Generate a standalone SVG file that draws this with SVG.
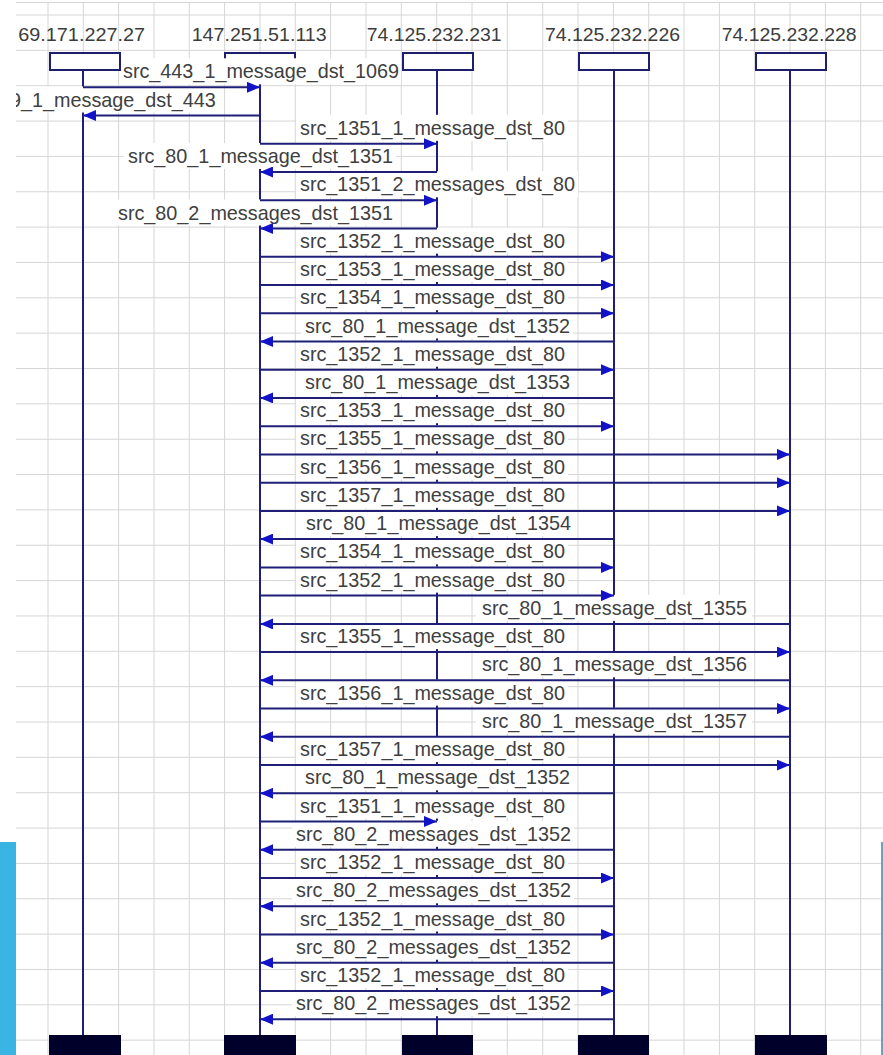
<svg xmlns="http://www.w3.org/2000/svg" width="883" height="1055" viewBox="0 0 883 1055">
<style>
.grid{stroke:#d6d6d6;stroke-width:1;fill:none}
.hdr{font-family:"Liberation Sans",Arial,sans-serif;font-size:18.5px;fill:#3c3c3c}
.head{fill:#fff;stroke:#1e1e6e;stroke-width:2}
.life{stroke:#1f1f78;stroke-width:2}
.foot{fill:#00002a}
.lbg{fill:#fff}
.lbl{font-family:"Liberation Sans",Arial,sans-serif;font-size:19.8px;fill:#404040}
.msg{stroke:#1f1f78;stroke-width:2;fill:none;marker-end:url(#ah)}
</style>
<defs>
<marker id="ah" markerUnits="userSpaceOnUse" markerWidth="13" markerHeight="11" refX="13" refY="5.5" orient="auto"><path d="M0,0 L13,5.5 L0,11 z" fill="#1212c8"/></marker>
<clipPath id="area"><rect x="16" y="0" width="867" height="1055"/></clipPath>
</defs>
<rect x="0" y="0" width="883" height="1055" fill="#fff"/>
<g id="grid" class="grid">
<path d="M16 2.5H883 M16 15H883 M16 50.35H883 M16 85.7H883 M16 121.05H883 M16 156.4H883 M16 191.75H883 M16 227.1H883 M16 262.45H883 M16 297.8H883 M16 333.15H883 M16 368.5H883 M16 403.85H883 M16 439.2H883 M16 474.55H883 M16 509.9H883 M16 545.25H883 M16 580.6H883 M16 615.95H883 M16 651.3H883 M16 686.65H883 M16 722H883 M16 757.35H883 M16 792.7H883 M16 828.05H883 M16 863.4H883 M16 898.75H883 M16 934.1H883 M16 969.45H883 M16 1004.8H883 M16 1040.15H883"/>
<path d="M48 2.5V1055 M83.3 2.5V1055 M118.6 2.5V1055 M154 2.5V1055 M189.3 2.5V1055 M224.6 2.5V1055 M260 2.5V1055 M295.3 2.5V1055 M330.6 2.5V1055 M366 2.5V1055 M401.3 2.5V1055 M436.7 2.5V1055 M472 2.5V1055 M507.3 2.5V1055 M542.7 2.5V1055 M578 2.5V1055 M613.4 2.5V1055 M648.7 2.5V1055 M684 2.5V1055 M719.4 2.5V1055 M754.7 2.5V1055 M790 2.5V1055 M825.4 2.5V1055 M860.7 2.5V1055"/>
</g>
<g id="node-69-171-227-27">
<text class="hdr" x="18.3" y="40.5" textLength="126.7" lengthAdjust="spacingAndGlyphs">69.171.227.27</text>
<rect class="head" x="50" y="53" width="70" height="17"/>
<line class="life" x1="83" y1="70" x2="83" y2="1035"/>
<rect class="foot" x="49" y="1035" width="72" height="20"/>
</g>
<g id="node-147-251-51-113">
<text class="hdr" x="191.7" y="40.5" textLength="135" lengthAdjust="spacingAndGlyphs">147.251.51.113</text>
<rect class="head" x="225" y="53" width="70" height="17"/>
<line class="life" x1="260" y1="70" x2="260" y2="1035"/>
<rect class="foot" x="224" y="1035" width="72" height="20"/>
</g>
<g id="node-74-125-232-231">
<text class="hdr" x="366.7" y="40.5" textLength="135" lengthAdjust="spacingAndGlyphs">74.125.232.231</text>
<rect class="head" x="403" y="53" width="70" height="17"/>
<line class="life" x1="437" y1="70" x2="437" y2="1035"/>
<rect class="foot" x="402" y="1035" width="71" height="20"/>
</g>
<g id="node-74-125-232-226">
<text class="hdr" x="545" y="40.5" textLength="135" lengthAdjust="spacingAndGlyphs">74.125.232.226</text>
<rect class="head" x="579" y="53" width="70" height="17"/>
<line class="life" x1="614" y1="70" x2="614" y2="1035"/>
<rect class="foot" x="578" y="1035" width="71" height="20"/>
</g>
<g id="node-74-125-232-228">
<text class="hdr" x="721.7" y="40.5" textLength="135" lengthAdjust="spacingAndGlyphs">74.125.232.228</text>
<rect class="head" x="756" y="53" width="70" height="17"/>
<line class="life" x1="790" y1="70" x2="790" y2="1035"/>
<rect class="foot" x="755" y="1035" width="72" height="20"/>
</g>
<g id="connectors" clip-path="url(#area)">
<g id="labels">
<rect class="lbg" x="121" y="58.3" width="280" height="26"/><text class="lbl" x="123" y="78.3">src_443_1_message_dst_1069</text>
<rect class="lbg" x="0" y="86.5" width="221" height="26"/><text class="lbl" x="10" y="106.5">9_1_message_dst_443</text>
<rect class="lbg" x="296" y="114.8" width="272" height="26"/><text class="lbl" x="300" y="134.8">src_1351_1_message_dst_80</text>
<rect class="lbg" x="124" y="143" width="272" height="26"/><text class="lbl" x="128" y="163">src_80_1_message_dst_1351</text>
<rect class="lbg" x="296" y="171.3" width="282" height="26"/><text class="lbl" x="300" y="191.3">src_1351_2_messages_dst_80</text>
<rect class="lbg" x="114" y="199.5" width="282" height="26"/><text class="lbl" x="118" y="219.5">src_80_2_messages_dst_1351</text>
<rect class="lbg" x="296" y="227.7" width="272" height="26"/><text class="lbl" x="300" y="247.7">src_1352_1_message_dst_80</text>
<rect class="lbg" x="296" y="256" width="272" height="26"/><text class="lbl" x="300" y="276">src_1353_1_message_dst_80</text>
<rect class="lbg" x="296" y="284.2" width="272" height="26"/><text class="lbl" x="300" y="304.2">src_1354_1_message_dst_80</text>
<rect class="lbg" x="301" y="312.5" width="272" height="26"/><text class="lbl" x="305" y="332.5">src_80_1_message_dst_1352</text>
<rect class="lbg" x="296" y="340.7" width="272" height="26"/><text class="lbl" x="300" y="360.7">src_1352_1_message_dst_80</text>
<rect class="lbg" x="301" y="368.9" width="272" height="26"/><text class="lbl" x="305" y="388.9">src_80_1_message_dst_1353</text>
<rect class="lbg" x="296" y="397.2" width="272" height="26"/><text class="lbl" x="300" y="417.2">src_1353_1_message_dst_80</text>
<rect class="lbg" x="296" y="425.4" width="272" height="26"/><text class="lbl" x="300" y="445.4">src_1355_1_message_dst_80</text>
<rect class="lbg" x="296" y="453.7" width="272" height="26"/><text class="lbl" x="300" y="473.7">src_1356_1_message_dst_80</text>
<rect class="lbg" x="296" y="481.9" width="272" height="26"/><text class="lbl" x="300" y="501.9">src_1357_1_message_dst_80</text>
<rect class="lbg" x="302" y="510.1" width="272" height="26"/><text class="lbl" x="306" y="530.1">src_80_1_message_dst_1354</text>
<rect class="lbg" x="296" y="538.4" width="272" height="26"/><text class="lbl" x="300" y="558.4">src_1354_1_message_dst_80</text>
<rect class="lbg" x="296" y="566.6" width="272" height="26"/><text class="lbl" x="300" y="586.6">src_1352_1_message_dst_80</text>
<rect class="lbg" x="476" y="594.9" width="276" height="26"/><text class="lbl" x="482" y="614.9">src_80_1_message_dst_1355</text>
<rect class="lbg" x="296" y="623.1" width="272" height="26"/><text class="lbl" x="300" y="643.1">src_1355_1_message_dst_80</text>
<rect class="lbg" x="476" y="651.3" width="276" height="26"/><text class="lbl" x="482" y="671.3">src_80_1_message_dst_1356</text>
<rect class="lbg" x="296" y="679.6" width="272" height="26"/><text class="lbl" x="300" y="699.6">src_1356_1_message_dst_80</text>
<rect class="lbg" x="476" y="707.8" width="276" height="26"/><text class="lbl" x="482" y="727.8">src_80_1_message_dst_1357</text>
<rect class="lbg" x="296" y="736.1" width="272" height="26"/><text class="lbl" x="300" y="756.1">src_1357_1_message_dst_80</text>
<rect class="lbg" x="301" y="764.3" width="272" height="26"/><text class="lbl" x="305" y="784.3">src_80_1_message_dst_1352</text>
<rect class="lbg" x="296" y="792.5" width="272" height="26"/><text class="lbl" x="300" y="812.5">src_1351_1_message_dst_80</text>
<rect class="lbg" x="292" y="820.8" width="282" height="26"/><text class="lbl" x="296" y="840.8">src_80_2_messages_dst_1352</text>
<rect class="lbg" x="296" y="849" width="272" height="26"/><text class="lbl" x="300" y="869">src_1352_1_message_dst_80</text>
<rect class="lbg" x="292" y="877.3" width="282" height="26"/><text class="lbl" x="296" y="897.3">src_80_2_messages_dst_1352</text>
<rect class="lbg" x="296" y="905.5" width="272" height="26"/><text class="lbl" x="300" y="925.5">src_1352_1_message_dst_80</text>
<rect class="lbg" x="292" y="933.7" width="282" height="26"/><text class="lbl" x="296" y="953.7">src_80_2_messages_dst_1352</text>
<rect class="lbg" x="296" y="962" width="272" height="26"/><text class="lbl" x="300" y="982">src_1352_1_message_dst_80</text>
<rect class="lbg" x="292" y="990.2" width="282" height="26"/><text class="lbl" x="296" y="1010.2">src_80_2_messages_dst_1352</text>
</g>
<g id="arrows">
<path class="msg" d="M83 87.3H260"/>
<path class="msg" d="M260 115.5H83"/>
<path class="msg" d="M260 143.8H437"/>
<path class="msg" d="M437 172H260"/>
<path class="msg" d="M260 200.3H437"/>
<path class="msg" d="M437 228.5H260"/>
<path class="msg" d="M260 256.7H614"/>
<path class="msg" d="M260 285H614"/>
<path class="msg" d="M260 313.2H614"/>
<path class="msg" d="M614 341.5H260"/>
<path class="msg" d="M260 369.7H614"/>
<path class="msg" d="M614 397.9H260"/>
<path class="msg" d="M260 426.2H614"/>
<path class="msg" d="M260 454.4H790"/>
<path class="msg" d="M260 482.7H790"/>
<path class="msg" d="M260 510.9H790"/>
<path class="msg" d="M614 539.1H260"/>
<path class="msg" d="M260 567.4H614"/>
<path class="msg" d="M260 595.6H614"/>
<path class="msg" d="M790 623.9H260"/>
<path class="msg" d="M260 652.1H790"/>
<path class="msg" d="M790 680.3H260"/>
<path class="msg" d="M260 708.6H790"/>
<path class="msg" d="M790 736.8H260"/>
<path class="msg" d="M260 765.1H790"/>
<path class="msg" d="M614 793.3H260"/>
<path class="msg" d="M260 821.5H437"/>
<path class="msg" d="M614 849.8H260"/>
<path class="msg" d="M260 878H614"/>
<path class="msg" d="M614 906.3H260"/>
<path class="msg" d="M260 934.5H614"/>
<path class="msg" d="M614 962.7H260"/>
<path class="msg" d="M260 991H614"/>
<path class="msg" d="M614 1019.2H260"/>
</g>
</g>
<rect x="0" y="842" width="16" height="213" fill="#3ab4e2"/>
<line x1="882" y1="842" x2="882" y2="1055" stroke="#3ab4e2" stroke-width="2"/>
</svg>
